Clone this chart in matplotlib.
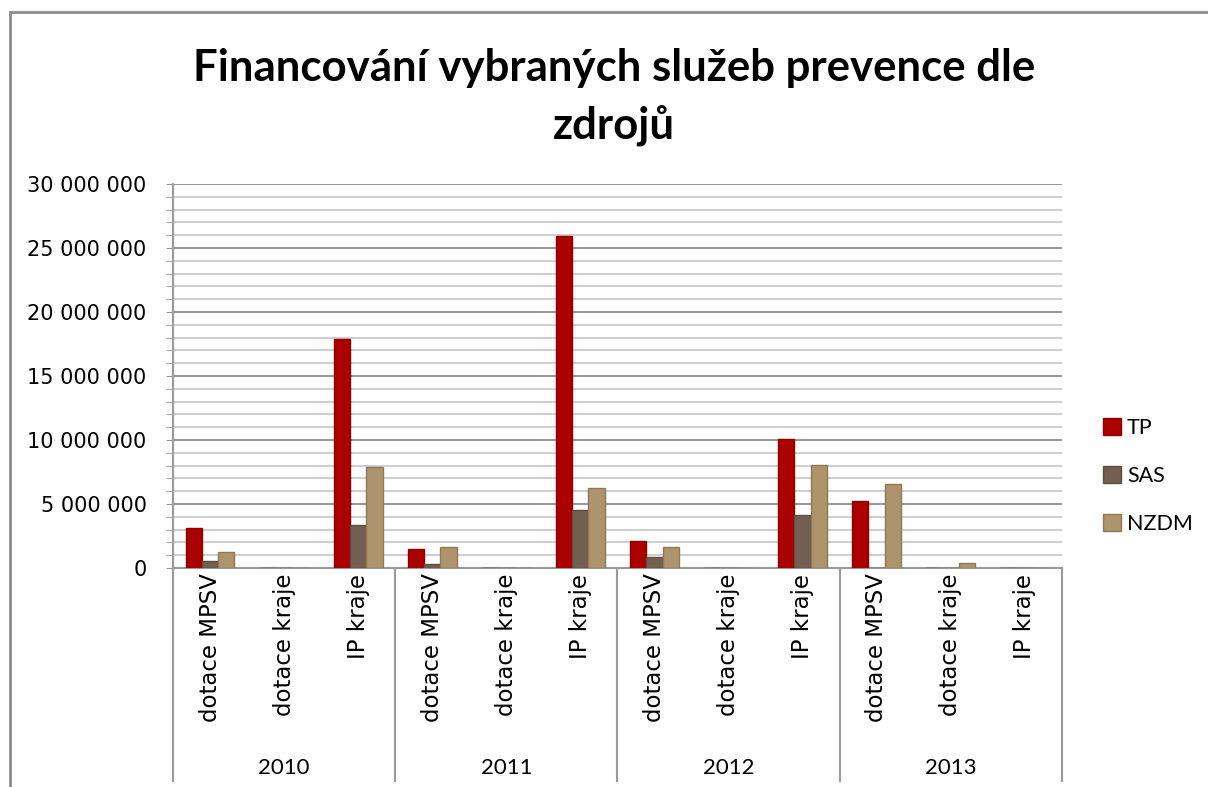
import matplotlib.pyplot as plt
import matplotlib.ticker as mticker
from matplotlib.patches import Rectangle
import numpy as np

years = ['2010', '2011', '2012', '2013']
sources = ['dotace MPSV', 'dotace kraje', 'IP kraje']
series = ['TP', 'SAS', 'NZDM']

# values per year x source (dotace MPSV, dotace kraje, IP kraje)
tp = [3150000, 0, 17860000,
      1510000, 0, 25960000,
      2140000, 0, 10050000,
      5230000, 0, 0]
sas = [530000, 0, 3330000,
       340000, 0, 4530000,
       830000, 0, 4140000,
       0, 0, 0]
nzdm = [1220000, 0, 7860000,
        1640000, 0, 6220000,
        1610000, 0, 8050000,
        6530000, 420000, 0]

colors = ['#AA0000', '#735F52', '#AD946D']
edges = ['#8E0000', '#5E4D42', '#8F7856']

fig = plt.figure(figsize=(12.08, 7.87), dpi=100)
ax = fig.add_axes([0.1432, 0.2783, 0.7357, 0.4879])

x = np.arange(len(tp))
w = 0.22
for i, (vals, c, e, name) in enumerate(zip([tp, sas, nzdm], colors, edges, series)):
    ax.bar(x + (i - 1) * w, vals, w, color=c, edgecolor=e, linewidth=1, label=name, zorder=3)

ax.set_xlim(-0.5, len(tp) - 0.5)
ax.set_ylim(0, 30000000)
ax.yaxis.set_major_locator(mticker.MultipleLocator(5000000))
ax.yaxis.set_minor_locator(mticker.MultipleLocator(1000000))
ax.yaxis.set_major_formatter(mticker.FuncFormatter(lambda v, p: f'{int(v):,}'.replace(',', ' ')))
ax.grid(which='major', axis='y', color='#9a9a9a', linewidth=1.5, zorder=0)
ax.grid(which='minor', axis='y', color='#cfcfcf', linewidth=1.5, zorder=0)
ax.tick_params(axis='y', which='both', direction='out', color='#9a9a9a', labelsize=15, pad=14)
ax.tick_params(axis='y', which='major', length=5)
ax.tick_params(axis='y', which='minor', length=5)

ax.set_xticks(x)
ax.set_xticklabels(sources * len(years), rotation=90, fontsize=16.5, va='top')
ax.tick_params(axis='x', length=0, pad=4)

for s in ['top', 'right']:
    ax.spines[s].set_visible(False)
for s in ['left', 'bottom']:
    ax.spines[s].set_color('#9a9a9a')
    ax.spines[s].set_linewidth(1.5)

# year group separators and labels below the axis
trans = ax.get_xaxis_transform()
for b in np.arange(-0.5, len(tp), 3):
    ax.plot([b, b], [0, -0.555], color='#9a9a9a', linewidth=1.5, transform=trans, clip_on=False)
for k, yr in enumerate(years):
    ax.text(3 * k + 1, -0.52, yr, transform=trans, ha='center', va='center',
            fontsize=16, family='Lato')

ax.legend(loc='center left', bbox_to_anchor=(1.025, 0.24), frameon=False,
          handlelength=0.8, handleheight=0.8, handletextpad=0.3, labelspacing=1.3,
          prop={'family': 'Lato', 'size': 15.5})

fig.text(0.508, 0.877, 'Financování vybraných služeb prevence dle\nzdrojů', ha='center', va='center',
         fontsize=31.5, fontweight='bold', family='Lato', linespacing=1.5)

fig.patches.append(Rectangle((10 / 1208, -0.1), 1.2, 1.1 - 12 / 787, transform=fig.transFigure,
                             fill=False, edgecolor='#8c8c8c', linewidth=2))

fig.savefig('out.png', dpi=100)
